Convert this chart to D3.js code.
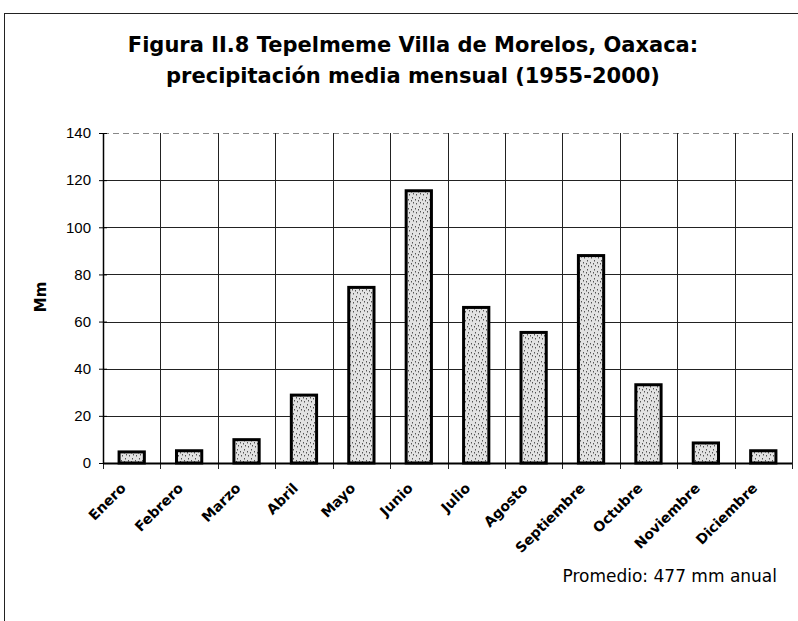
<!DOCTYPE html>
<html>
<head>
<meta charset="utf-8">
<script src="https://cdn.jsdelivr.net/npm/d3@7"></script>
<style>
  body { margin: 0; background: #fff; }
  svg { display: block; }
</style>
</head>
<body>
<svg id="chart"></svg>
<script>
var months = ["Enero", "Febrero", "Marzo", "Abril", "Mayo", "Junio", "Julio", "Agosto", "Septiembre", "Octubre", "Noviembre", "Diciembre"];
var rainfall = [4.7, 5.2, 9.9, 28.8, 74.5, 115.5, 66, 55.4, 88, 33.2, 8.5, 5.2];
var yTicks = [0, 20, 40, 60, 80, 100, 120, 140];
var titleLines = ["Figura II.8 Tepelmeme Villa de Morelos, Oaxaca:", "precipitación media mensual (1955-2000)"];
var note = "Promedio: 477 mm anual";

var W = 798, H = 621;
var margin = { top: 133, right: 6, bottom: 158, left: 103 },
    width = W - margin.left - margin.right,
    height = H - margin.top - margin.bottom;

var svg = d3.select("#chart")
    .attr("width", W)
    .attr("height", H);

// outer frame
svg.append("rect")
    .attr("x", 4.5).attr("y", 13.5)
    .attr("width", W).attr("height", H)
    .attr("fill", "none")
    .attr("stroke", "#222")
    .attr("stroke-width", 1);

// speckle fill for bars
var defs = svg.append("defs");
var pat = defs.append("pattern")
    .attr("id", "speckle")
    .attr("patternUnits", "userSpaceOnUse")
    .attr("width", 7).attr("height", 9);
pat.append("rect").attr("width", 7).attr("height", 9).attr("fill", "#e2e2e2");
[[1, 1], [4, 3], [2, 6], [5, 7], [0, 4]].forEach(function(p) {
    pat.append("rect").attr("x", p[0]).attr("y", p[1])
        .attr("width", 1).attr("height", 1.5).attr("fill", "#555");
});

var chart = svg.append("g")
    .attr("transform", "translate(" + margin.left + "," + margin.top + ")");

var x = d3.scaleBand().domain(months).range([0, width]).paddingInner(0.56).paddingOuter(0.28);
var y = d3.scaleLinear().domain([0, 140]).range([height, 0]);
var step = width / months.length;

// horizontal grid
chart.selectAll(".hgrid")
    .data(yTicks)
    .enter().append("line")
    .attr("class", "hgrid")
    .attr("x1", 0).attr("x2", width)
    .attr("y1", function(d) { return Math.round(y(d)) + 0.5; })
    .attr("y2", function(d) { return Math.round(y(d)) + 0.5; })
    .attr("stroke", function(d) { return d === 140 ? "#888" : "#222"; })
    .attr("stroke-dasharray", function(d) { return d === 140 ? "6,4" : null; })
    .attr("stroke-width", 1);

// vertical grid at category boundaries
chart.selectAll(".vgrid")
    .data(d3.range(months.length + 1))
    .enter().append("line")
    .attr("class", "vgrid")
    .attr("x1", function(i) { return Math.round(i * step) + 0.5; })
    .attr("x2", function(i) { return Math.round(i * step) + 0.5; })
    .attr("y1", 0).attr("y2", height + 6)
    .attr("stroke", "#222")
    .attr("stroke-width", 1);

// bars
chart.selectAll(".bar")
    .data(rainfall)
    .enter().append("rect")
    .attr("class", "bar")
    .attr("x", function(d, i) { return x(months[i]); })
    .attr("y", function(d) { return y(d); })
    .attr("width", x.bandwidth())
    .attr("height", function(d) { return height - y(d); })
    .attr("fill", "url(#speckle)")
    .attr("stroke", "#000")
    .attr("stroke-width", 3);

// y axis
var yAxis = d3.axisLeft(y).tickValues(yTicks).tickSize(4).tickSizeOuter(0);
var yg = chart.append("g")
    .attr("class", "y axis")
    .call(yAxis);
yg.select(".domain").attr("stroke", "#000").attr("stroke-width", 1.5);
yg.selectAll(".tick line").attr("stroke", "#000").attr("x2", 4).attr("x1", -4);
yg.selectAll(".tick text")
    .attr("x", -12)
    .attr("font-family", "Liberation Sans, Arial, sans-serif")
    .attr("font-size", "15px")
    .attr("fill", "#000");

// baseline
chart.append("line")
    .attr("x1", 0).attr("x2", width)
    .attr("y1", height + 0.5).attr("y2", height + 0.5)
    .attr("stroke", "#000").attr("stroke-width", 2);

// x labels rotated
chart.selectAll(".xlabel")
    .data(months)
    .enter().append("text")
    .attr("class", "xlabel")
    .attr("text-anchor", "end")
    .attr("font-family", "DejaVu Sans, sans-serif")
    .attr("font-weight", "bold")
    .attr("font-size", "14px")
    .attr("fill", "#000")
    .attr("transform", function(d) {
        return "translate(" + (x(d) + x.bandwidth() / 2 - 5) + "," + (height + 26) + ") rotate(-45)";
    })
    .text(function(d) { return d; });

// y label
svg.append("text")
    .text("Mm")
    .attr("text-anchor", "middle")
    .attr("font-family", "DejaVu Sans, sans-serif")
    .attr("font-weight", "bold")
    .attr("font-size", "15px")
    .attr("fill", "#000")
    .attr("transform", "translate(46,297) rotate(-90)");

// title
svg.selectAll(".title")
    .data(titleLines)
    .enter().append("text")
    .attr("class", "title")
    .attr("x", 413)
    .attr("y", function(d, i) { return 52 + i * 31; })
    .attr("text-anchor", "middle")
    .attr("font-family", "DejaVu Sans, sans-serif")
    .attr("font-weight", "bold")
    .attr("font-size", "21px")
    .attr("fill", "#000")
    .text(function(d) { return d; });

// note
svg.append("text")
    .text(note)
    .attr("x", 777)
    .attr("y", 582)
    .attr("text-anchor", "end")
    .attr("font-family", "DejaVu Sans, sans-serif")
    .attr("font-size", "17px")
    .attr("fill", "#000");
</script>
</body>
</html>
